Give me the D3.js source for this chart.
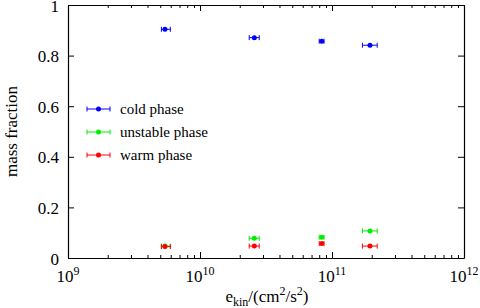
<!DOCTYPE html>
<html lang="en">
<head>
  <meta charset="UTF-8">
  <title>Mass fraction vs kinetic energy</title>
  <script src="https://d3js.org/d3.v7.min.js"></script>
  <style>
    body { margin: 0; background: #fff; }
    .domain, .tick line { stroke: #000; }
  </style>
</head>
<body>
  <div id="chart"></div>
  <script>
    // kinetic energy per run (cm^2/s^2) and its spread
    const ekin = [5.43e9, 2.58e10, 8.36e10, 1.94e11];
    const ekinLo = [5.1e9, 2.36e10, 8.0e10, 1.7e11];
    const ekinHi = [5.96e9, 2.81e10, 8.7e10, 2.2e11];

    const cold = [0.904, 0.871, 0.857, 0.841];
    const unstable = [0.047, 0.078, 0.082, 0.107];
    const warm = [0.045, 0.047, 0.057, 0.047];

    const seriesNames = ["cold phase", "unstable phase", "warm phase"];
    const seriesColors = ["#0000ff", "#00ee00", "#ff0000"];
    const xTickExp = [9, 10, 11, 12];
    const yTicks = [0, 0.2, 0.4, 0.6, 0.8, 1];

    const width = 480, height = 308;
    const margin = { top: 5, right: 16, bottom: 50, left: 68 };
    const iw = width - margin.left - margin.right;
    const ih = height - margin.top - margin.bottom;
    const serif = "'Liberation Serif', 'DejaVu Serif', serif";

    const svg = d3.select("#chart").append("svg")
      .attr("width", width)
      .attr("height", height)
      .style("font-family", serif);

    const g = svg.append("g").attr("transform", `translate(${margin.left},${margin.top})`);

    const x = d3.scaleLog().domain([1e9, 1e12]).range([0, iw]);
    const y = d3.scaleLinear().domain([0, 1]).range([ih, 0]);

    // minor log ticks 2..9 in every decade
    const minor = [];
    xTickExp.slice(0, -1).forEach(e => {
      for (let k = 2; k <= 9; k++) minor.push(k * Math.pow(10, e));
    });
    const major = xTickExp.map(e => Math.pow(10, e));

    function xAxis(sel, orient) {
      const mk = orient === "bottom" ? d3.axisBottom : d3.axisTop;
      sel.append("g").call(mk(x).tickValues(minor).tickSize(-3).tickFormat(""))
        .call(a => a.select(".domain").remove());
      sel.append("g").call(mk(x).tickValues(major).tickSize(-6).tickSizeOuter(0).tickFormat(""));
    }
    xAxis(g.append("g").attr("transform", `translate(0,${ih})`), "bottom");
    xAxis(g.append("g"), "top");

    g.append("g").call(d3.axisLeft(y).tickValues(yTicks).tickSize(-6).tickSizeOuter(0).tickFormat(""));
    g.append("g").attr("transform", `translate(${iw},0)`)
      .call(d3.axisRight(y).tickValues(yTicks).tickSize(-6).tickSizeOuter(0).tickFormat(""));

    g.selectAll(".domain").attr("stroke-width", 1.2);

    // y tick labels
    g.append("g").selectAll("text")
      .data(yTicks)
      .join("text")
      .attr("x", -9)
      .attr("y", d => y(d) + 6.5)
      .attr("text-anchor", "end")
      .style("font-family", serif)
      .attr("font-size", 17)
      .attr("fill", "#000")
      .text(d => d === 0 || d === 1 ? String(d) : d.toFixed(1));

    // x tick labels: 10^n
    const xl = g.append("g").selectAll("text")
      .data(xTickExp)
      .join("text")
      .attr("x", d => x(Math.pow(10, d)))
      .attr("y", ih + 24)
      .attr("text-anchor", "middle")
      .style("font-family", serif)
      .attr("font-size", 17)
      .attr("fill", "#000");
    xl.append("tspan").text("10");
    xl.append("tspan").attr("font-size", 12).attr("dy", -7).text(d => d);

    // axis titles
    const xt = svg.append("text")
      .attr("x", 267)
      .attr("y", 302)
      .attr("text-anchor", "middle")
      .style("font-family", serif)
      .attr("font-size", 17)
      .attr("fill", "#000");
    xt.append("tspan").text("e");
    xt.append("tspan").attr("font-size", 12).attr("dy", 4).text("kin");
    xt.append("tspan").attr("dy", -4).text("/(cm");
    xt.append("tspan").attr("font-size", 12).attr("dy", -7).text("2");
    xt.append("tspan").attr("dy", 7).text("/s");
    xt.append("tspan").attr("font-size", 12).attr("dy", -7).text("2");
    xt.append("tspan").attr("dy", 7).text(")");

    svg.append("text")
      .attr("transform", `translate(17,${margin.top + ih / 2}) rotate(-90)`)
      .attr("text-anchor", "middle")
      .style("font-family", serif)
      .attr("font-size", 17)
      .attr("fill", "#000")
      .text("mass fraction");

    // data with horizontal error bars
    const series = [cold, unstable, warm];
    const order = [1, 2, 0]; // red drawn over green at the first point
    order.forEach(si => {
      const vals = series[si];
      const col = seriesColors[si];
      const sg = g.append("g").attr("stroke", col).attr("fill", col);
      const pts = sg.selectAll("g").data(vals.map((v, i) => ({ v, i }))).join("g");
      pts.append("line")
        .attr("x1", d => x(ekinLo[d.i])).attr("x2", d => x(ekinHi[d.i]))
        .attr("y1", d => y(d.v)).attr("y2", d => y(d.v));
      pts.append("line")
        .attr("x1", d => x(ekinLo[d.i])).attr("x2", d => x(ekinLo[d.i]))
        .attr("y1", d => y(d.v) - 2.5).attr("y2", d => y(d.v) + 2.5);
      pts.append("line")
        .attr("x1", d => x(ekinHi[d.i])).attr("x2", d => x(ekinHi[d.i]))
        .attr("y1", d => y(d.v) - 2.5).attr("y2", d => y(d.v) + 2.5);
      pts.append("circle")
        .attr("cx", d => x(ekin[d.i])).attr("cy", d => y(d.v))
        .attr("r", 2.5).attr("stroke", "none");
    });

    // legend
    const leg = g.append("g").attr("transform", "translate(19,104)");
    seriesNames.forEach((name, i) => {
      const row = leg.append("g").attr("transform", `translate(0,${i * 23})`)
        .attr("stroke", seriesColors[i]).attr("fill", seriesColors[i]);
      row.append("line").attr("x1", 0).attr("x2", 23).attr("y1", 0).attr("y2", 0);
      row.append("line").attr("x1", 0).attr("x2", 0).attr("y1", -2.5).attr("y2", 2.5);
      row.append("line").attr("x1", 23).attr("x2", 23).attr("y1", -2.5).attr("y2", 2.5);
      row.append("circle").attr("cx", 11.5).attr("cy", 0).attr("r", 2.5).attr("stroke", "none");
      row.append("text")
        .attr("x", 33).attr("y", 5)
        .attr("stroke", "none")
        .attr("fill", "#000")
        .style("font-family", serif)
        .attr("font-size", 15)
        .text(name);
    });
  </script>
</body>
</html>
